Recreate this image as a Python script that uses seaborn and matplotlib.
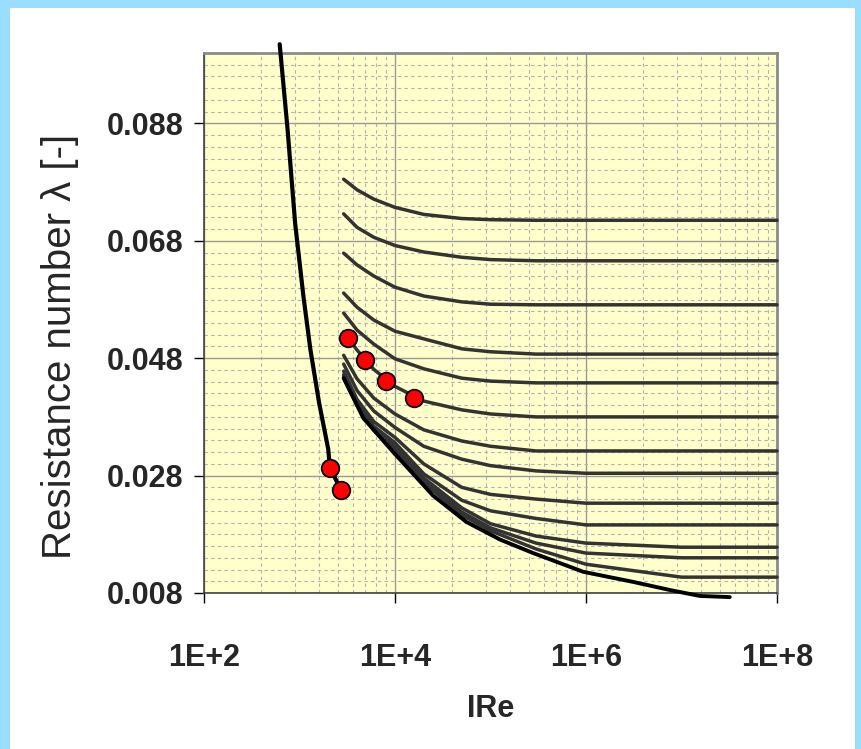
import numpy as np
import pandas as pd
import matplotlib
matplotlib.use("Agg")
import matplotlib.pyplot as plt
import matplotlib.ticker as mticker
from matplotlib.patches import Rectangle
import seaborn as sns

# ── DATA ─────────────────────────────────────────────────────────────────────
# shared Re grid for the rough-pipe curves
re_grid = [2900, 4000, 6000, 1e4, 2e4, 5e4, 1e5, 3e5, 1e6, 1e7, 1e8]

lam_r1 = [0.0785, 0.0767, 0.0751, 0.0737, 0.0725, 0.0718, 0.0716, 0.0715, 0.0715, 0.0715, 0.0715]
lam_r2 = [0.0726, 0.0703, 0.0686, 0.0672, 0.0661, 0.0652, 0.0648, 0.0646, 0.0646, 0.0646, 0.0646]
lam_r3 = [0.0659, 0.0639, 0.0620, 0.0601, 0.0586, 0.0576, 0.0572, 0.0571, 0.0571, 0.0571, 0.0571]
lam_r4 = [0.0591, 0.0567, 0.0545, 0.0526, 0.0513, 0.0496, 0.0491, 0.0487, 0.0487, 0.0487, 0.0487]
lam_r5 = [0.0557, 0.0528, 0.0504, 0.0479, 0.0462, 0.0446, 0.0441, 0.0438, 0.0438, 0.0438, 0.0438]
lam_r6 = [0.0525, 0.0494, 0.0461, 0.0432, 0.0407, 0.0392, 0.0385, 0.0380, 0.0380, 0.0380, 0.0380]
lam_r7 = [0.0485, 0.0445, 0.0412, 0.0385, 0.0358, 0.0339, 0.0330, 0.0322, 0.0322, 0.0322, 0.0322]
lam_r8 = [0.0470, 0.0425, 0.0390, 0.0362, 0.0330, 0.0308, 0.0297, 0.0288, 0.0284, 0.0284, 0.0284]
lam_r9 = [0.0458, 0.0410, 0.0372, 0.0345, 0.0300, 0.0260, 0.0248, 0.0240, 0.0233, 0.0233, 0.0233]
lam_r10 = [0.0452, 0.0405, 0.0364, 0.0336, 0.0283, 0.0238, 0.0220, 0.0207, 0.0196, 0.0196, 0.0196]
lam_r11 = [0.0450, 0.0403, 0.0361, 0.0331, 0.0276, 0.0225, 0.0198, 0.0177, 0.0165, 0.0158, 0.0158]
lam_r12 = [0.0448, 0.0401, 0.0359, 0.0327, 0.0272, 0.0218, 0.0191, 0.0165, 0.0148, 0.0140, 0.0140]
lam_r13 = [0.0447, 0.0400, 0.0357, 0.0324, 0.0268, 0.0213, 0.0186, 0.0155, 0.0129, 0.0107, 0.0107]
rough_curves = [lam_r1, lam_r2, lam_r3, lam_r4, lam_r5, lam_r6, lam_r7,
                lam_r8, lam_r9, lam_r10, lam_r11, lam_r12, lam_r13]

# hydraulically smooth pipe
smooth_re = [2900, 4660, 9590, 25000, 56000, 126000, 280000, 940000, 3.1e6, 7.6e6, 1.55e7, 3.2e7]
smooth_lam = [0.0446, 0.0378, 0.0320, 0.0246, 0.0201, 0.0171, 0.0148, 0.0116, 0.0099, 0.0085, 0.0075, 0.0073]

# laminar branch
laminar_re = [620, 750, 900, 1100, 1300, 1600, 2000, 2080, 2720]
laminar_lam = [0.1015, 0.0870, 0.0710, 0.0585, 0.0495, 0.0405, 0.0325, 0.0293, 0.0256]

# measured points (red dots)
dot_re = [2080, 2720, 3200, 4800, 8000, 16000]
dot_lam = [0.0293, 0.0256, 0.0514, 0.0477, 0.0441, 0.0413]

x_ticks = [1e2, 1e4, 1e6, 1e8]
x_labels = ["1E+2", "1E+4", "1E+6", "1E+8"]
y_ticks = [0.008, 0.028, 0.048, 0.068, 0.088]
y_labels = ["0.008", "0.028", "0.048", "0.068", "0.088"]
# ─────────────────────────────────────────────────────────────────────────────

rough_df = pd.DataFrame({
    "Re": re_grid * len(rough_curves),
    "lam": [v for c in rough_curves for v in c],
    "curve": [i for i, c in enumerate(rough_curves) for _ in c],
})
smooth_df = pd.DataFrame({"Re": smooth_re, "lam": smooth_lam})
laminar_df = pd.DataFrame({"Re": laminar_re, "lam": laminar_lam})
dots_df = pd.DataFrame({"Re": dot_re, "lam": dot_lam})

sns.set_theme(style="ticks")
plt.rcParams["font.family"] = ["Liberation Sans", "DejaVu Sans"]

W, H = 861, 749
fig = plt.figure(figsize=(W / 100, H / 100), dpi=100)
fig.patch.set_facecolor("white")
ax = fig.add_axes([204 / W, 1 - 593 / H, (777 - 204) / W, (593 - 53) / H])
ax.set_facecolor("#FFFFCC")
ax.set_xscale("log")
ax.set_xlim(1e2, 1e8)
ax.set_ylim(0.008, 0.100)

sns.lineplot(data=rough_df, x="Re", y="lam", units="curve", estimator=None,
             color="#333333", linewidth=2.5, legend=False, ax=ax, clip_on=False, zorder=3)
sns.lineplot(data=smooth_df, x="Re", y="lam", estimator=None, sort=False,
             color="black", linewidth=2.8, ax=ax, clip_on=False, zorder=4)
sns.lineplot(data=laminar_df, x="Re", y="lam", estimator=None, sort=False,
             color="black", linewidth=3.0, ax=ax, clip_on=False, zorder=4)
sns.scatterplot(data=dots_df, x="Re", y="lam", color="#FF0000", edgecolor="black",
                linewidth=1.3, s=160, ax=ax, zorder=6, clip_on=False)

# ticks and grid (Excel style: majors every 2 decades, minors at k^2 steps)
ax.xaxis.set_major_locator(mticker.FixedLocator(x_ticks))
ax.xaxis.set_major_formatter(mticker.FixedFormatter(x_labels))
ax.xaxis.set_minor_locator(mticker.FixedLocator(
    [k * k * 100.0 ** n for n in (1, 2, 3) for k in range(2, 10)]))
ax.xaxis.set_minor_formatter(mticker.NullFormatter())
ax.yaxis.set_major_locator(mticker.FixedLocator(y_ticks))
ax.yaxis.set_major_formatter(mticker.FixedFormatter(y_labels))
ax.yaxis.set_minor_locator(mticker.MultipleLocator(0.002))

ax.grid(which="major", color="#9a9a9a", linewidth=1.0, linestyle="-")
ax.grid(which="minor", color="#b0b0b0", linewidth=0.8, linestyle=(0, (3, 3)))
ax.set_axisbelow(True)

ax.tick_params(which="major", direction="out", length=7, width=1, color="black")
ax.tick_params(which="minor", length=0)
ax.tick_params(axis="x", pad=29, labelsize=22)
ax.tick_params(axis="y", pad=8, labelsize=22)
for lab in ax.get_xticklabels() + ax.get_yticklabels():
    lab.set_fontweight("bold")

for side in ("left", "bottom"):
    ax.spines[side].set_color("#404040")
    ax.spines[side].set_linewidth(1.2)
for side in ("top", "right"):
    ax.spines[side].set_color("#8c8c8c")
    ax.spines[side].set_linewidth(2)

ax.set_xlabel("IRe", fontsize=22, fontweight="bold")
ax.xaxis.set_label_coords(0.5, -0.187)
ax.set_ylabel("Resistance number λ [-]", fontsize=29)
ax.yaxis.label.set_va("center")
ax.yaxis.set_label_coords(-0.252, 0.456)

# light blue frame around the slide
for x0, y0, w, h in [(0, 0, 10, H), (0, H - 8, W, 8), (W - 6, 0, 6, H)]:
    fig.add_artist(Rectangle((x0 / W, y0 / H), w / W, h / H, transform=fig.transFigure,
                             facecolor="#99DDFF", edgecolor="none", zorder=-5))

fig.savefig("out.png", dpi=100)
